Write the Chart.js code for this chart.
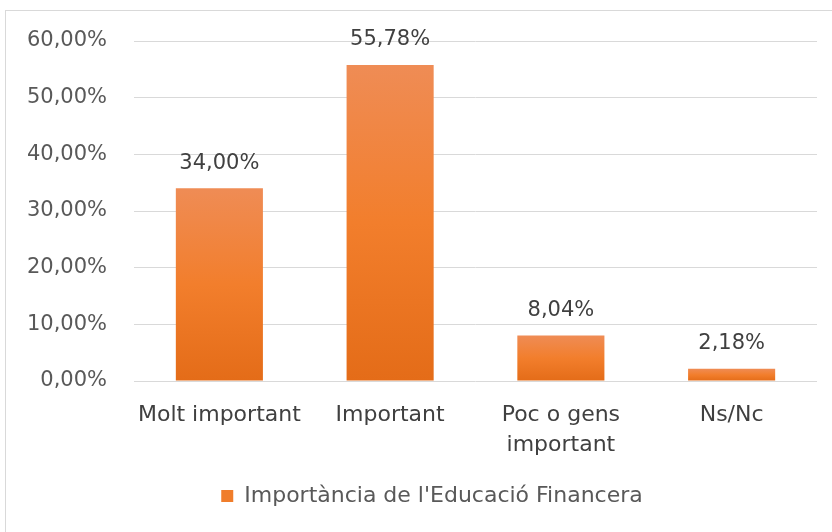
<!DOCTYPE html>
<html>
<head>
<meta charset="utf-8">
<script src="https://cdn.jsdelivr.net/npm/chart.js@4/dist/chart.umd.min.js"></script>
<style>
  html, body { margin: 0; padding: 0; background: #fff; }
  #wrap { position: relative; width: 832px; height: 532px; }
  #frame { position: absolute; left: 5px; top: 10px; right: -2px; bottom: -2px;
           border-top: 1px solid #d9d9d9; border-left: 1px solid #d9d9d9; }
  canvas { position: absolute; left: 0; top: 0; }
</style>
</head>
<body>
<div id="wrap">
  <div id="frame"></div>
  <canvas id="chart" width="832" height="532"></canvas>
</div>
<script>
// data
const categories = ["Molt important", "Important", ["Poc o gens", "important"], "Ns/Nc"];
const values = [0.34, 0.5578, 0.0804, 0.0218];
const seriesName = "Importància de l'Educació Financera";
const yTicks = [0, 0.1, 0.2, 0.3, 0.4, 0.5, 0.6];

const fmt = v => (v * 100).toFixed(2).replace(".", ",") + "%";
const FONT = "'DejaVu Sans', sans-serif";

// per bar gradient, lighter on top
function barFill(ctx) {
  const chart = ctx.chart;
  const y = chart.scales.y;
  if (!y || ctx.parsed === undefined) return "#F07D2B";
  const top = y.getPixelForValue(ctx.parsed.y);
  const bottom = y.getPixelForValue(0);
  if (!isFinite(top) || !isFinite(bottom) || top === bottom) return "#F07D2B";
  const g = chart.ctx.createLinearGradient(0, top, 0, bottom);
  g.addColorStop(0, "#EF8C55");
  g.addColorStop(0.5, "#F27E2C");
  g.addColorStop(1, "#E46C18");
  return g;
}

const valueLabels = {
  id: "valueLabels",
  afterDatasetsDraw(chart) {
    const c = chart.ctx;
    const meta = chart.getDatasetMeta(0);
    c.save();
    c.font = "21px " + FONT;
    c.fillStyle = "#404040";
    c.textAlign = "center";
    c.textBaseline = "middle";
    meta.data.forEach((bar, i) => {
      c.fillText(fmt(values[i]), bar.x, bar.y - 25);
    });
    c.restore();
  }
};

// legend sits a bit right of centre in the original
const legendShift = {
  id: "legendShift",
  afterLayout(chart) {
    if (chart.legend) chart.legend.left += 42;
  }
};

const ctx = document.getElementById("chart").getContext("2d");
new Chart(ctx, {
  type: "bar",
  data: {
    labels: categories,
    datasets: [{
      label: seriesName,
      data: values,
      backgroundColor: barFill,
      borderWidth: 0,
      categoryPercentage: 1,
      barPercentage: 0.51,
    }],
  },
  options: {
    responsive: false,
    animation: false,
    layout: {padding: {top: 41, right: 15, left: 5, bottom: 15}},
    plugins: {
      legend: {
        position: "bottom",
        labels: {
          color: "#595959",
          font: {size: 22, family: FONT},
          boxWidth: 12,
          boxHeight: 12,
          padding: 10,
          generateLabels: () => [{
            text: seriesName,
            fillStyle: "#F07D2B",
            strokeStyle: "#F07D2B",
            lineWidth: 0,
            fontColor: "#595959",
          }],
        },
      },
      tooltip: {enabled: false},
    },
    scales: {
      x: {
        grid: {display: false},
        border: {display: false},
        afterFit: s => { s.height = 94; },
        ticks: {
          color: "#404040",
          font: {size: 22, family: FONT, lineHeight: 1.36},
          padding: 11,
          maxRotation: 0,
          autoSkip: false,
        },
      },
      y: {
        min: 0,
        max: 0.6,
        afterBuildTicks: s => { s.ticks = yTicks.map(v => ({value: v})); },
        afterFit: s => { s.width = 129; },
        grid: {color: "#d9d9d9", lineWidth: 1, drawTicks: false},
        border: {display: false},
        ticks: {
          color: "#595959",
          font: {size: 21, family: FONT},
          padding: 27,
          callback: v => fmt(v),
        },
      },
    },
  },
  plugins: [valueLabels, legendShift],
});
</script>
</body>
</html>
